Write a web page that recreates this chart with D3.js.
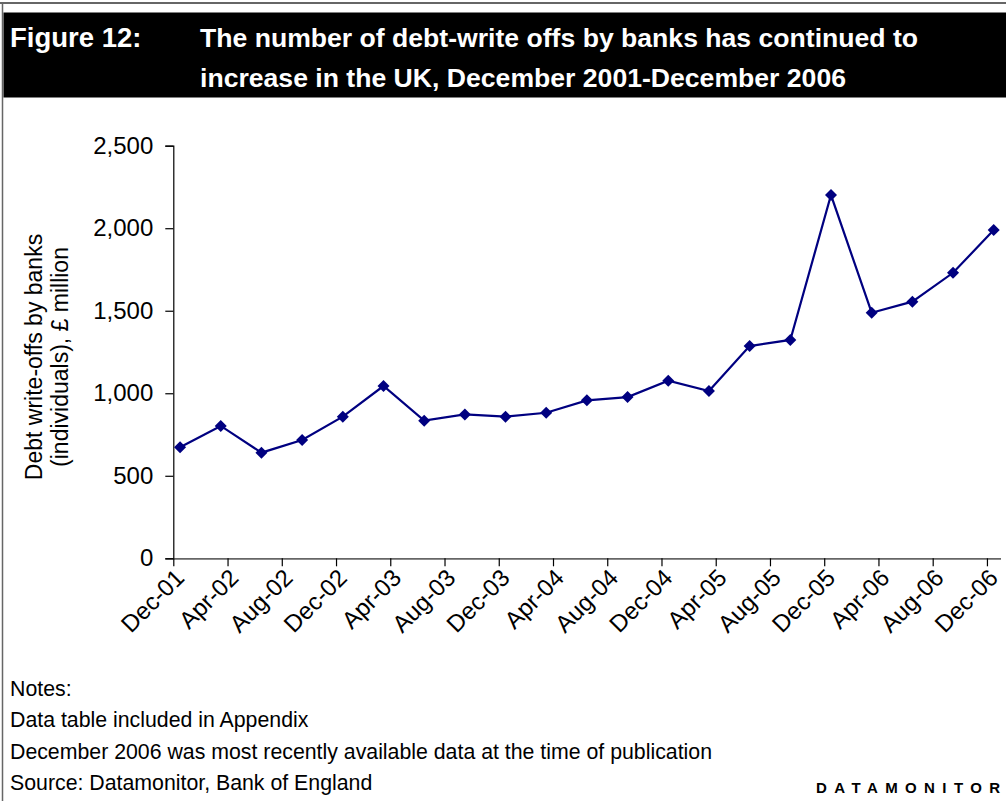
<!DOCTYPE html>
<html>
<head>
<meta charset="utf-8">
<script src="https://cdn.jsdelivr.net/npm/d3@7"></script>
<style>
  html, body { margin: 0; padding: 0; background: #fff; }
  svg { display: block; }
  text { font-family: "Liberation Sans", Arial, sans-serif; }
</style>
</head>
<body>
<svg id="chart" width="1006" height="801"></svg>
<script>
// Quarterly debt write-offs by banks (individuals), £ million, Dec-01 .. Dec-06
const quarters = ["Dec-01","Mar-02","Jun-02","Sep-02","Dec-02","Mar-03","Jun-03","Sep-03","Dec-03",
                  "Mar-04","Jun-04","Sep-04","Dec-04","Mar-05","Jun-05","Sep-05","Dec-05",
                  "Mar-06","Jun-06","Sep-06","Dec-06"];
const writeOffs = [673, 802, 640, 717, 858, 1044, 834, 872, 858, 882, 957,
                   977, 1076, 1014, 1286, 1323, 2201, 1488, 1555, 1730, 1989];
const xTickLabels = ["Dec-01","Apr-02","Aug-02","Dec-02","Apr-03","Aug-03","Dec-03","Apr-04",
                     "Aug-04","Dec-04","Apr-05","Aug-05","Dec-05","Apr-06","Aug-06","Dec-06"];
const yTicks = [0, 500, 1000, 1500, 2000, 2500];
const titleLines = ["The number of debt-write offs by banks has continued to",
                    "increase in the UK, December 2001-December 2006"];
const noteLines = ["Notes:", "Data table included in Appendix",
                   "December 2006 was most recently available data at the time of publication",
                   "Source: Datamonitor, Bank of England"];

const svg = d3.select("#chart");

// page frame
svg.append("line").attr("x1", 0).attr("x2", 1006).attr("y1", 3).attr("y2", 3)
  .attr("stroke", "#666").attr("stroke-width", 2);
svg.append("line").attr("x1", 2.5).attr("x2", 2.5).attr("y1", 3).attr("y2", 801)
  .attr("stroke", "#666").attr("stroke-width", 1.5);

// title band
svg.append("rect").attr("x", 3.5).attr("y", 12.5).attr("width", 1003).attr("height", 85)
  .attr("fill", "#000");
svg.append("text").attr("x", 10).attr("y", 47).attr("fill", "#fff")
  .attr("font-weight", "bold").attr("font-size", 27.5).text("Figure 12:");
svg.selectAll("text.title").data(titleLines).join("text")
  .attr("class", "title")
  .attr("x", 200).attr("y", (d, i) => 47 + i * 40)
  .attr("fill", "#fff").attr("font-weight", "bold").attr("font-size", 26.6)
  .text(d => d);

// scales: x runs over months, each quarter's point sits mid-month
const monthIndex = d => 3 * d;
const x = d3.scaleLinear().domain([0, 61]).range([173.3, 1000.5]);
const y = d3.scaleLinear().domain([0, 2500]).range([558.3, 145.7]);

// y axis
const yAxis = svg.append("g").attr("transform", "translate(173.3,0)")
  .call(d3.axisLeft(y).tickValues(yTicks).tickFormat(d3.format(",")).tickSize(8).tickPadding(12));
yAxis.select(".domain").attr("stroke", "#000").attr("stroke-width", 1.2);
yAxis.selectAll(".tick line").attr("stroke", "#000").attr("stroke-width", 1.2);
yAxis.selectAll(".tick text").attr("font-size", 24).attr("fill", "#000")
  .attr("font-family", "Liberation Sans, Arial, sans-serif");

// x axis
const xAxis = svg.append("g").attr("transform", "translate(0,558.3)")
  .call(d3.axisBottom(x).tickValues(d3.range(0, 61, 4))
    .tickFormat((d, i) => xTickLabels[i]).tickSizeInner(8).tickSizeOuter(0).tickPadding(4));
xAxis.select(".domain").attr("stroke", "#666").attr("stroke-width", 1.8);
xAxis.selectAll(".tick line").attr("stroke", "#000").attr("stroke-width", 1.2);
xAxis.selectAll(".tick text")
  .attr("font-size", 24).attr("fill", "#000")
  .attr("font-family", "Liberation Sans, Arial, sans-serif")
  .attr("text-anchor", "end")
  .attr("dy", "0.35em")
  .attr("transform", "translate(6,15) rotate(-45)")
  .attr("y", 0);

// y axis title
const yTitle = svg.append("text")
  .attr("transform", "translate(42,357) rotate(-90)")
  .attr("text-anchor", "middle").attr("font-size", 23).attr("fill", "#000");
yTitle.append("tspan").attr("x", 0).attr("dy", 0).text("Debt write-offs by banks");
yTitle.append("tspan").attr("x", 0).attr("dy", 26).text("(individuals), £ million");

// series line and diamond markers
const line = d3.line()
  .x((d, i) => x(monthIndex(i) + 0.5))
  .y(d => y(d));
svg.append("path").datum(writeOffs)
  .attr("d", line).attr("fill", "none")
  .attr("stroke", "#000080").attr("stroke-width", 2.2);
svg.selectAll("path.marker").data(writeOffs).join("path")
  .attr("class", "marker")
  .attr("d", d3.symbol(d3.symbolDiamond2, 92))
  .attr("transform", (d, i) => `translate(${x(monthIndex(i) + 0.5)},${y(d)})`)
  .attr("fill", "#000080");

// notes and source
svg.selectAll("text.note").data(noteLines).join("text")
  .attr("class", "note")
  .attr("x", 10).attr("y", (d, i) => 696 + i * 31.3)
  .attr("font-size", 21.3).attr("fill", "#000")
  .text(d => d);
svg.append("text").attr("x", 1007.5).attr("y", 793).attr("text-anchor", "end")
  .attr("font-size", 15).attr("font-weight", "bold").attr("letter-spacing", 7.4)
  .attr("fill", "#000").text("DATAMONITOR");
</script>
</body>
</html>
